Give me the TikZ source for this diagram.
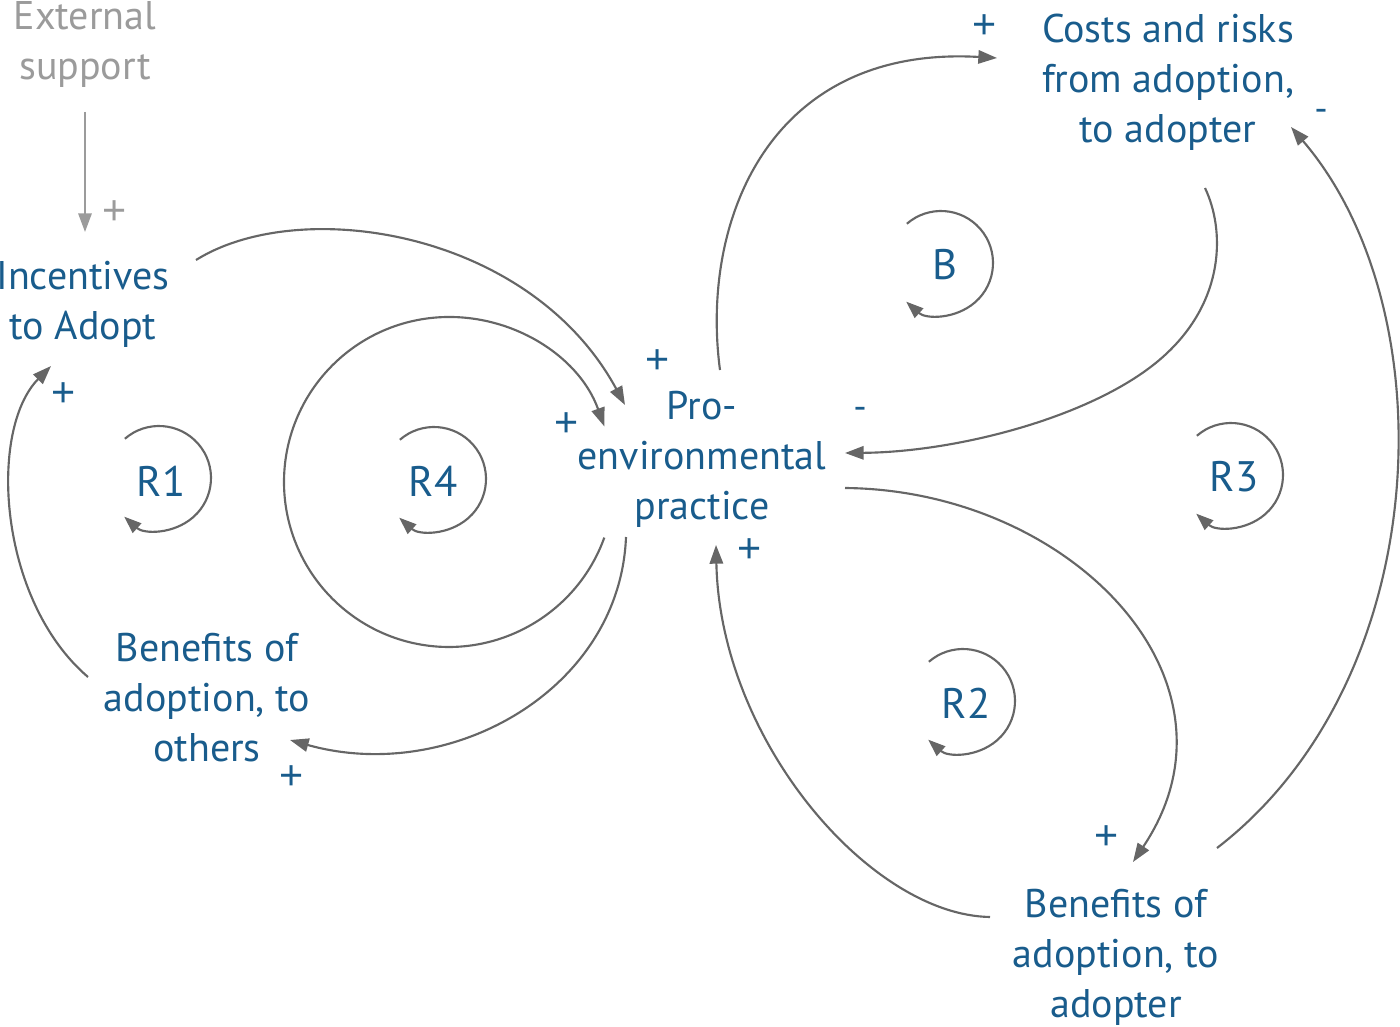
\documentclass[tikz,border=0pt]{standalone}
\usepackage{fontspec}
\setmainfont{PT Sans}
\newfontfamily\signfont{Liberation Sans}
\usetikzlibrary{arrows.meta}
\definecolor{txtblue}{RGB}{25,92,140}
\definecolor{lngray}{RGB}{102,102,102}
\definecolor{extgray}{RGB}{155,155,155}
\tikzset{
  varnode/.style={align=center,inner sep=0pt,text=txtblue,font=\fontsize{30}{37.5}\selectfont},
  extnode/.style={varnode,text=extgray},
  signnode/.style={inner sep=0pt,text=txtblue,font=\signfont\fontsize{31}{32}\selectfont},
  minusnode/.style={inner sep=0pt,text=txtblue,font=\fontsize{28}{30}\selectfont},
  loopname/.style={inner sep=0pt,text=txtblue,font=\fontsize{32}{34}\selectfont},
  link/.style={draw=lngray,line width=1.6pt,-{Triangle[length=14pt,width=10pt]},fill=none},
  marker/.style={draw=lngray,line width=1.6pt,-{Triangle[length=13pt,width=9.5pt]}},
}
\begin{document}
\begin{tikzpicture}[x=0.75pt,y=-0.75pt]
\useasboundingbox (0,0) rectangle (1400,1027);

% variables
\node[extnode] (ext) at (85,45) {External\\support};
\node[varnode] (inc) at (83,304) {Incentives\\to Adopt};
\node[varnode] (pro) at (702,459) {Pro-\\environmental\\practice};
\node[varnode] (cost) at (1168,82) {Costs and risks\\from adoption,\\to adopter};
\node[varnode] (bo) at (207,698) {Benefits of\\adoption, to\\others};
\node[varnode] (ba) at (1116,957) {Benefits of\\adoption, to\\adopter};

% connector end points
\coordinate (ext-o) at (85,112);
\coordinate (inc-i) at (85,232);
\coordinate (inc-o) at (196,260);
\coordinate (pro-i1) at (625,405);
\coordinate (pro-o4) at (604.3,537.6);
\coordinate (pro-i4) at (604.3,426.4);
\coordinate (pro-o2) at (626,537);
\coordinate (bo-i) at (290,740);
\coordinate (bo-o) at (88,677);
\coordinate (inc-i2) at (51,366);
\coordinate (pro-o3) at (720,370);
\coordinate (cost-i) at (997,58);
\coordinate (cost-o) at (1205,188);
\coordinate (pro-i3) at (845,453);
\coordinate (pro-o5) at (845,488);
\coordinate (ba-i) at (1133,862);
\coordinate (ba-o1) at (990,917);
\coordinate (pro-i5) at (716,545);
\coordinate (ba-o2) at (1217,848);
\coordinate (cost-i2) at (1291,127);

% connectors
\draw[link,draw=extgray] (ext-o) -- (inc-i);
\draw[link] (inc-o) .. controls (300,195) and (530,230) .. (pro-i1);
\draw[link] (pro-o4) .. controls (577.3,612.9) and (499.2,658.4) .. (420.4,644.5)
  .. controls (341.6,630.6) and (284,562) .. (284,482)
  .. controls (284,402) and (341.6,333.4) .. (420.4,319.5)
  .. controls (499.2,305.6) and (577.3,351.1) .. (pro-i4);
\draw[link] (pro-o2) .. controls (620,690) and (450,785) .. (bo-i);
\draw[link] (bo-o) .. controls (-2,600) and (-12,430) .. (inc-i2);
\draw[link] (pro-o3) .. controls (700,220) and (770,45) .. (cost-i);
\draw[link] (cost-o) .. controls (1225,230) and (1225,300) .. (1165,355)
  .. controls (1100,415) and (960,452) .. (pro-i3);
\draw[link] (pro-o5) .. controls (1070,490) and (1255,680) .. (ba-i);
\draw[link] (ba-o1) .. controls (870,915) and (720,740) .. (pro-i5);
\draw[link] (ba-o2) .. controls (1435,680) and (1448,310) .. (cost-i2);

% polarity signs
\node[signnode,text=extgray] (s0) at (115,213) {+};
\node[signnode] (s1) at (64,395) {+};
\node[signnode] (s2) at (658,362) {+};
\node[signnode] (s3) at (567,425) {+};
\node[minusnode] (s4) at (860,413) {-};
\node[signnode] (s5) at (750,551) {+};
\node[signnode] (s6) at (985,27) {+};
\node[minusnode] (s7) at (1321,115) {-};
\node[signnode] (s8) at (292,778) {+};
\node[signnode] (s9) at (1107,838) {+};

% loop markers
\coordinate (Bc) at (941,263);
\coordinate (R1c) at (159,478);
\coordinate (R4c) at (434,479);
\coordinate (R3c) at (1231,475);
\coordinate (R2c) at (963,701);
\foreach \c in {Bc,R1c,R4c,R3c,R2c}{
  \draw[marker] (\c) ++(131:39pt) arc[start angle=131,end angle=-132,radius=39pt];
}
\node[loopname] (lB) at (945,265) {B};
\node[loopname] (lR1) at (161,481) {R1};
\node[loopname] (lR4) at (433,481) {R4};
\node[loopname] (lR3) at (1234,477) {R3};
\node[loopname] (lR2) at (966,703) {R2};
\end{tikzpicture}
\end{document}
